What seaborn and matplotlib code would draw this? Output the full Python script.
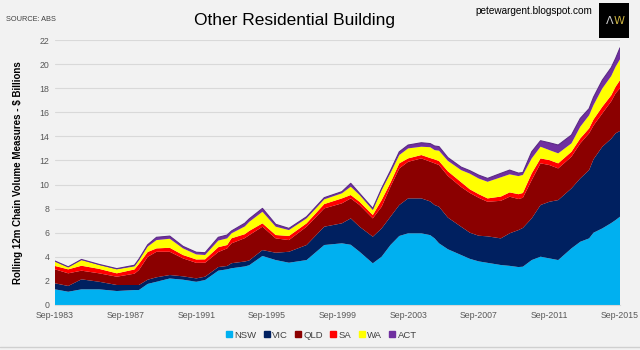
import matplotlib
matplotlib.use("Agg")
import matplotlib.pyplot as plt
from matplotlib.lines import Line2D
from matplotlib.patches import Rectangle
import seaborn as sns
import pandas as pd

# quarter index counted from Sep-1983 (0) to Sep-2015 (128)
quarter = [0, 3, 6, 10, 14, 18, 19, 21, 23, 26, 29, 32, 34, 37, 39, 40, 43, 44, 47, 50,
           53, 57, 61, 65, 67, 69, 72, 74, 76, 78, 80, 83, 85, 86, 87, 89, 92, 94, 96, 98,
           101, 103, 105, 106, 108, 110, 112, 114, 117, 119, 121, 122, 124, 126, 127, 128]

nsw = [1.30, 1.10, 1.30, 1.30, 1.16, 1.24, 1.24, 1.75, 1.93, 2.20, 2.10, 1.93, 2.07, 2.85, 2.96, 3.05, 3.20, 3.30, 4.07, 3.73,
       3.51, 3.73, 4.98, 5.12, 5.00, 4.42, 3.46, 4.01, 4.98, 5.73, 5.95, 5.95, 5.80, 5.53, 5.12, 4.63, 4.15, 3.83, 3.62, 3.50,
       3.32, 3.25, 3.15, 3.18, 3.73, 4.01, 3.87, 3.73, 4.70, 5.25, 5.53, 6.00, 6.36, 6.80, 7.05, 7.33]
vic = [0.50, 0.48, 0.83, 0.63, 0.50, 0.42, 0.42, 0.35, 0.37, 0.29, 0.28, 0.28, 0.28, 0.30, 0.28, 0.42, 0.41, 0.40, 0.49, 0.61,
       0.91, 1.25, 1.52, 1.66, 2.19, 2.08, 2.21, 2.35, 2.35, 2.57, 2.90, 2.90, 2.80, 2.77, 3.04, 2.63, 2.35, 2.17, 2.13, 2.20,
       2.21, 2.70, 3.07, 3.22, 3.46, 4.29, 4.70, 4.98, 4.98, 5.26, 5.67, 6.10, 6.78, 7.00, 7.20, 7.12]
qld = [1.16, 1.05, 0.72, 0.70, 0.69, 0.94, 1.24, 1.90, 2.12, 1.93, 1.49, 1.29, 1.16, 1.25, 1.46, 1.65, 1.94, 2.10, 1.94, 1.19,
       0.97, 1.52, 1.52, 1.66, 1.66, 1.80, 1.52, 1.80, 2.49, 3.04, 3.04, 3.32, 3.30, 3.46, 3.46, 3.46, 3.30, 3.30, 3.15, 2.87,
       3.12, 3.04, 2.58, 2.50, 3.18, 3.46, 3.05, 2.63, 2.63, 2.91, 3.05, 2.80, 2.77, 3.10, 3.32, 3.55]
sa = [0.28, 0.33, 0.41, 0.37, 0.28, 0.35, 0.50, 0.40, 0.28, 0.33, 0.28, 0.28, 0.28, 0.40, 0.28, 0.42, 0.33, 0.35, 0.28, 0.28,
      0.34, 0.28, 0.36, 0.41, 0.28, 0.27, 0.28, 0.55, 0.33, 0.42, 0.28, 0.28, 0.30, 0.33, 0.33, 0.38, 0.40, 0.30, 0.30, 0.28,
      0.35, 0.36, 0.40, 0.40, 0.56, 0.41, 0.41, 0.42, 0.41, 0.41, 0.41, 0.50, 0.55, 0.50, 0.55, 0.67]
wa = [0.36, 0.17, 0.47, 0.32, 0.33, 0.25, 0.30, 0.45, 0.69, 0.75, 0.55, 0.42, 0.36, 0.55, 0.55, 0.41, 0.64, 0.75, 0.96, 0.69,
      0.49, 0.41, 0.39, 0.42, 0.69, 0.56, 0.41, 0.83, 0.80, 0.69, 0.83, 0.69, 0.90, 0.77, 0.86, 0.87, 1.00, 1.30, 1.30, 1.38,
      1.60, 1.50, 1.50, 1.50, 1.24, 0.97, 0.83, 0.83, 0.70, 0.97, 1.09, 1.20, 1.52, 1.60, 1.66, 1.73]
act = [0.05, 0.04, 0.05, 0.05, 0.06, 0.10, 0.10, 0.15, 0.23, 0.22, 0.17, 0.18, 0.19, 0.27, 0.28, 0.20, 0.27, 0.25, 0.28, 0.20,
       0.14, 0.14, 0.14, 0.14, 0.28, 0.14, 0.14, 0.14, 0.20, 0.27, 0.28, 0.33, 0.30, 0.34, 0.34, 0.27, 0.25, 0.25, 0.28, 0.28,
       0.33, 0.35, 0.25, 0.20, 0.55, 0.50, 0.61, 0.69, 0.69, 0.69, 0.55, 0.65, 0.69, 0.70, 0.69, 0.95]

states = ["NSW", "VIC", "QLD", "SA", "WA", "ACT"]
state_colors = ["#00B0F0", "#002060", "#8B0000", "#FF0000", "#FFFF00", "#7030A0"]
tick_quarters = [0, 16, 32, 48, 64, 80, 96, 112, 128]
tick_labels = ["Sep-1983", "Sep-1987", "Sep-1991", "Sep-1995", "Sep-1999",
               "Sep-2003", "Sep-2007", "Sep-2011", "Sep-2015"]
y_ticks = list(range(0, 23, 2))

df = pd.DataFrame({"quarter": quarter, "NSW": nsw, "VIC": vic, "QLD": qld,
                   "SA": sa, "WA": wa, "ACT": act})

sns.set_theme(style="white")
narrow = ["Liberation Sans Narrow", "Liberation Sans", "DejaVu Sans"]
plt.rcParams["font.family"] = narrow

bg = "#F2F2F2"
fig = plt.figure(figsize=(6.4, 3.5), dpi=100, facecolor=bg)
ax = fig.add_axes([55 / 640, 1 - 305 / 350, 565 / 640, 265 / 350])
ax.set_facecolor(bg)

ax.stackplot(df["quarter"], [df[s] for s in states], colors=state_colors,
             linewidth=0.3, edgecolor="none")
# thin outline on top of the stack
sns.lineplot(x=df["quarter"], y=df[states].sum(axis=1), ax=ax, color="#5B2A86",
             linewidth=0.8, legend=False)

ax.set_xlim(0, 128)
ax.set_ylim(0, 22)
ax.set_yticks(y_ticks)
ax.set_xticks(tick_quarters)
ax.set_xticklabels(tick_labels)
ax.set_xlabel("")
ax.set_ylabel("Rolling 12m Chain Volume Measures - $ Billions", fontsize=7,
              fontweight="bold", color="#000000", labelpad=12)
ax.tick_params(axis="both", labelsize=6.3, colors="#595959", length=0, pad=4)
ax.yaxis.grid(True, color="#D9D9D9", linewidth=0.8)
ax.set_axisbelow(True)
for side in ["top", "right", "left"]:
    ax.spines[side].set_visible(False)
ax.spines["bottom"].set_color("#D9D9D9")
ax.spines["bottom"].set_linewidth(0.8)

fig.text(6 / 640, 1 - 19.5 / 350, "SOURCE: ABS", fontsize=5.3, color="#404040",
         va="center", ha="left")
fig.text(294 / 640, 1 - 21 / 350, "Other Residential Building", fontsize=12.5,
         color="#000000", va="center", ha="center")
fig.text(592 / 640, 1 - 11 / 350, "petewargent.blogspot.com", fontsize=7.2,
         color="#000000", va="center", ha="right")

# logo
fig.add_artist(Rectangle((599 / 640, 1 - 38 / 350), 30 / 640, 35 / 350,
                         transform=fig.transFigure, facecolor="#000000",
                         edgecolor="none"))
fig.text(610 / 640, 1 - 21 / 350, "\u039b", fontsize=8, color="#D0D0D0",
         ha="center", va="center", family=["DejaVu Sans"])
fig.text(619 / 640, 1 - 21 / 350, "W", fontsize=8, color="#C8B040",
         ha="center", va="center", family=["DejaVu Sans"])

handles = [Line2D([0], [0], marker="s", linestyle="none", markersize=4.3,
                  markerfacecolor=c, markeredgecolor=c) for c in state_colors]
fig.legend(handles, states, loc="center", bbox_to_anchor=(321 / 640, 1 - 335 / 350),
           ncol=6, frameon=False, fontsize=6.8, handletextpad=0.15,
           columnspacing=0.7, handlelength=0.8, labelcolor="#404040")

fig.add_artist(Line2D([0, 1], [1 - 347 / 350] * 2, transform=fig.transFigure,
                      color="#D0D0D0", linewidth=1))

fig.savefig("out.png", dpi=100, facecolor=bg)
